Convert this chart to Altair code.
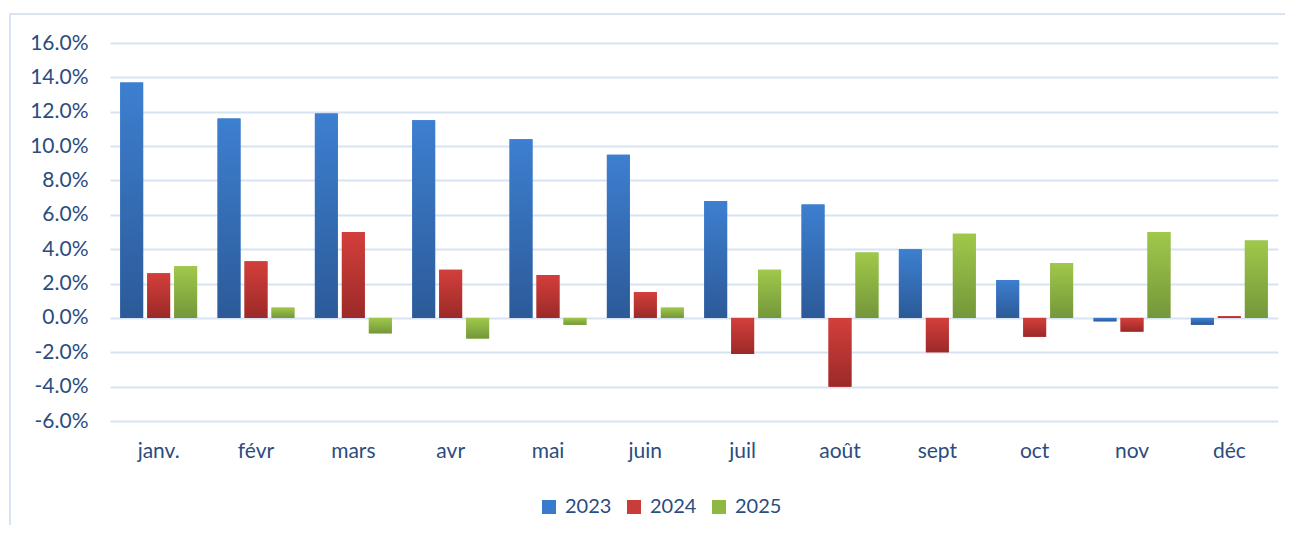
import altair as alt
import pandas as pd

months = ["janv.", "févr", "mars", "avr", "mai", "juin", "juil", "août", "sept", "oct", "nov", "déc"]
years = ["2023", "2024", "2025"]
v2023 = [13.7, 11.6, 11.9, 11.5, 10.4, 9.5, 6.8, 6.6, 4.0, 2.2, -0.2, -0.4]
v2024 = [2.6, 3.3, 5.0, 2.8, 2.5, 1.5, -2.1, -4.0, -2.0, -1.1, -0.8, 0.1]
v2025 = [3.0, 0.6, -0.9, -1.2, -0.4, 0.6, 2.8, 3.8, 4.9, 3.2, 5.0, 4.5]
y_ticks = [-6, -4, -2, 0, 2, 4, 6, 8, 10, 12, 14, 16]

rows = []
for yr, vals in zip(years, [v2023, v2024, v2025]):
    for m, v in zip(months, vals):
        rows.append({"month": m, "year": yr, "value": v})
df = pd.DataFrame(rows)

TXT = "#2b4c7e"
FONT = "Lato"
FS = 21
solid = ["#3a7acb", "#c83c39", "#8fb843"]
grads = {
    "2023": ("#3d7fd0", "#2c5a98"),
    "2024": ("#d33f3b", "#9b2a28"),
    "2025": ("#a0c84a", "#74973a"),
}

W, H = 1168, 378

base = alt.Chart(df).encode(
    x=alt.X("month:N", sort=months, title=None,
            scale=alt.Scale(paddingInner=0.21, paddingOuter=0.105),
            axis=alt.Axis(labelAngle=0, ticks=False, domain=False, grid=False,
                          labelPadding=19, labelFontSize=FS, labelColor=TXT, labelFont=FONT)),
    xOffset=alt.XOffset("year:N", scale=alt.Scale(domain=years, paddingInner=0.15, paddingOuter=0)),
    y=alt.Y("value:Q", title=None,
            scale=alt.Scale(domain=[-6, 16], nice=False, zero=False),
            axis=alt.Axis(values=y_ticks,
                          labelExpr="replace(format(datum.value, '.1f'), '\u2212', '-') + '%'",
                          ticks=False, domain=False, grid=True, gridColor="#d7e3f3", gridWidth=2,
                          labelPadding=22, labelFontSize=FS, labelColor=TXT, labelFont=FONT)),
)

legend_layer = base.mark_bar().encode(
    color=alt.Color("year:N", scale=alt.Scale(domain=years, range=solid), title=None,
                    legend=alt.Legend(orient="none", legendX=429, legendY=454, direction="horizontal",
                                      symbolType="square", symbolSize=196, symbolStrokeWidth=0,
                                      labelFontSize=20, labelColor=TXT, labelFont=FONT,
                                      columnPadding=12, labelOffset=6))
)

layers = [legend_layer]
for yr in years:
    top, bot = grads[yr]
    g = alt.Gradient(gradient="linear", x1=0, x2=0, y1=0, y2=1,
                     stops=[alt.GradientStop(color=top, offset=0), alt.GradientStop(color=bot, offset=1)])
    layers.append(base.transform_filter(alt.datum.year == yr).mark_bar(fill=g))

frame = alt.Chart(alt.Data(values=[{}])).mark_rect(fill=None, stroke="#cddcf0", strokeWidth=1.5).encode(
    x=alt.value(-100), x2=alt.value(1300), y=alt.value(-29), y2=alt.value(700)
)

chart = alt.layer(frame, *layers).properties(
    width=W, height=H,
    autosize=alt.AutoSizeParams(type="none"),
    padding={"left": 102, "top": 35, "right": 7, "bottom": 104},
).configure_view(stroke=None)

chart.save("out.html", embed_options={"renderer": "svg", "actions": False})
